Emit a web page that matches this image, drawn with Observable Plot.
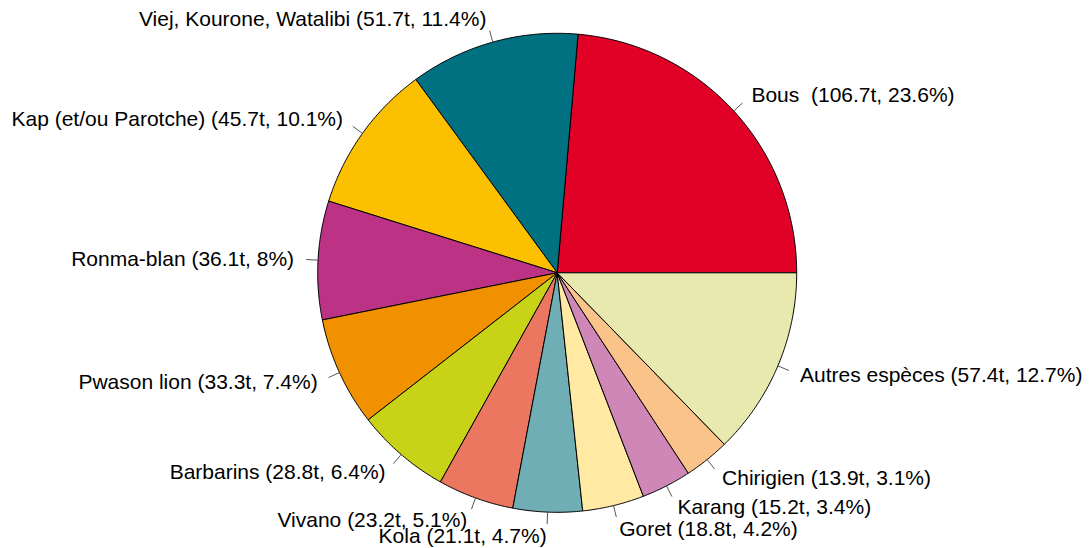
<!DOCTYPE html>
<html>
<head>
<meta charset="utf-8">
<script src="https://cdn.jsdelivr.net/npm/d3@7"></script>
<script src="https://cdn.jsdelivr.net/npm/@observablehq/plot@0.6"></script>
<style>
  html, body { margin: 0; padding: 0; background: #fff; }
  svg { display: block; }
</style>
</head>
<body>
<div id="chart"></div>
<script>
// ---- data ----
const species = ["Bous ", "Viej, Kourone, Watalibi", "Kap (et/ou Parotche)", "Ronma-blan",
  "Pwason lion", "Barbarins", "Vivano", "Kola", "Goret", "Karang", "Chirigien", "Autres espèces"];
const tonnes = [106.7, 51.7, 45.7, 36.1, 33.3, 28.8, 23.2, 21.1, 18.8, 15.2, 13.9, 57.4];
const percents = ["23.6", "11.4", "10.1", "8", "7.4", "6.4", "5.1", "4.7", "4.2", "3.4", "3.1", "12.7"];
const colors = ["#E10026", "#007180", "#FBC100", "#BC3285", "#F29100", "#C8D217", "#EB7760",
  "#70AEB6", "#FFE9A3", "#CE87B6", "#F9C389", "#E8E9AF"];

// ---- geometry (layout) ----
const W = 1092, H = 548;
const cx = 556.7, cy = 272.3, R = 239.5;

const total = d3.sum(tonnes);
let cum = 0;
const slices = species.map((name, i) => {
  const a0 = cum / total * 2 * Math.PI;
  cum += tonnes[i];
  const a1 = cum / total * 2 * Math.PI;
  return {name, a0, a1, mid: (a0 + a1) / 2,
    label: `${name} (${tonnes[i]}t, ${percents[i]}%)`};
});

const poly = [];
for (const s of slices) {
  poly.push({name: s.name, x: 0, y: 0});
  const n = Math.max(2, Math.ceil((s.a1 - s.a0) / (Math.PI / 360)));
  for (let k = 0; k <= n; k++) {
    const a = s.a0 + (s.a1 - s.a0) * k / n;
    poly.push({name: s.name, x: Math.cos(a), y: Math.sin(a)});
  }
  poly.push({name: s.name, x: 0, y: 0});
}

const ticks = slices.map(s => ({
  x1: Math.cos(s.mid), y1: Math.sin(s.mid),
  x2: 1.05 * Math.cos(s.mid), y2: 1.05 * Math.sin(s.mid)
}));
const labels = slices.map(s => ({
  x: 1.1 * Math.cos(s.mid), y: 1.1 * Math.sin(s.mid), text: s.label, right: Math.cos(s.mid) >= 0
}));

const chart = Plot.plot({
  width: W,
  height: H,
  margin: 0,
  style: {background: "#fff", fontFamily: "'Liberation Sans', Arial, sans-serif"},
  x: {domain: [-cx / R, (W - cx) / R], axis: null},
  y: {domain: [-(H - cy) / R, cy / R], axis: null},
  color: {domain: species, range: colors},
  marks: [
    Plot.line(poly, {x: "x", y: "y", z: "name", fill: "name", stroke: "#000",
      strokeWidth: 1, strokeLinejoin: "round", curve: "linear"}),
    Plot.link(ticks, {x1: "x1", y1: "y1", x2: "x2", y2: "y2", stroke: "#555", strokeWidth: 1}),
    Plot.text(labels.filter(d => d.right), {x: "x", y: "y", text: "text",
      textAnchor: "start", fontSize: 21, fill: "#000"}),
    Plot.text(labels.filter(d => !d.right), {x: "x", y: "y", text: "text",
      textAnchor: "end", fontSize: 21, fill: "#000"})
  ]
});
document.getElementById("chart").appendChild(chart);
</script>
</body>
</html>
